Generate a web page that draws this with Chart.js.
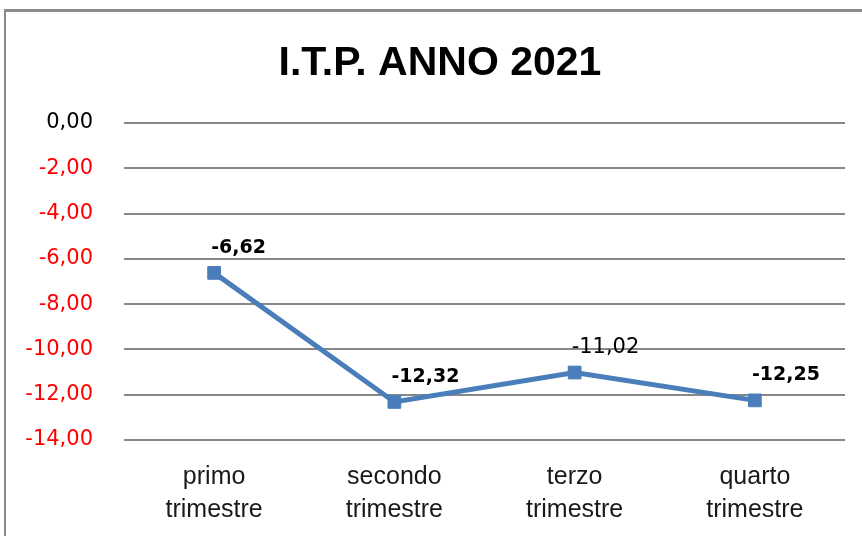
<!DOCTYPE html>
<html>
<head>
<meta charset="utf-8">
<script src="https://cdn.jsdelivr.net/npm/chart.js@4"></script>
<style>
    html, body { margin: 0; padding: 0; background: #fff; overflow: hidden; }
    .frame {
        position: absolute; left: 4px; top: 9px; width: 900px; height: 600px;
        border-top: 3px solid #8a8a8a; border-left: 2px solid #8a8a8a;
    }
    #itp-chart { position: absolute; left: 0; top: 0; }
</style>
</head>
<body>
<div class="frame"></div>
<canvas id="itp-chart" width="862" height="536"></canvas>
<script>
// I.T.P. anno 2021 - valori trimestrali
const chartTitle = 'I.T.P. ANNO 2021';
const quarters = [['primo', 'trimestre'], ['secondo', 'trimestre'], ['terzo', 'trimestre'], ['quarto', 'trimestre']];
const itpValues = [-6.62, -12.32, -11.02, -12.25];
const yTicks = [0, -2, -4, -6, -8, -10, -12, -14];

const LINE_BLUE = '#4a7ebb';
const GRID_GREY = '#878787';

function fmt(v) {
    return v.toFixed(2).replace('.', ',');
}

// draws the value labels above each point
const valueLabels = {
    id: 'valueLabels',
    afterDatasetsDraw(chart) {
        const ctx = chart.ctx;
        const meta = chart.getDatasetMeta(0);
        ctx.save();
        ctx.fillStyle = '#000';
        ctx.textAlign = 'left';
        ctx.textBaseline = 'middle';
        meta.data.forEach((pt, i) => {
            // the third label is not bold in the original
            ctx.font = i === 2 ? '21px "DejaVu Sans"' : 'bold 19px "DejaVu Sans"';
            ctx.fillText(fmt(itpValues[i]), pt.x - 3, pt.y - 25);
        });
        ctx.restore();
    }
};

new Chart(document.getElementById('itp-chart'), {
    type: 'line',
    data: {
        labels: quarters,
        datasets: [{
            data: itpValues,
            borderColor: LINE_BLUE,
            backgroundColor: LINE_BLUE,
            borderWidth: 5,
            pointStyle: 'rect',
            pointRadius: 9,
            pointBorderWidth: 1,
            tension: 0
        }]
    },
    options: {
        responsive: false,
        animation: false,
        layout: { padding: { left: 20, right: 2, top: 10, bottom: 0 } },
        plugins: {
            legend: { display: false },
            tooltip: { enabled: false },
            title: {
                display: true,
                text: chartTitle,
                color: '#000',
                font: { family: '"Liberation Sans", sans-serif', size: 41, weight: 'bold', lineHeight: 1.2 },
                padding: { top: 29.4, bottom: 34.4 }
            }
        },
        scales: {
            x: {
                offset: true,
                grid: { display: false },
                border: { display: false },
                ticks: {
                    color: '#1a1a1a',
                    padding: 13,
                    maxRotation: 0,
                    autoSkip: false,
                    font: { family: '"Liberation Sans", sans-serif', size: 25, lineHeight: 1.3 }
                },
                afterFit(scale) { scale.height = 96; }
            },
            y: {
                min: -14,
                max: 0,
                afterBuildTicks(scale) {
                    scale.ticks = yTicks.map(v => ({ value: v }));
                },
                afterFit(scale) { scale.width = 104; },
                grid: { color: GRID_GREY, lineWidth: 2, drawTicks: false },
                border: { display: false },
                ticks: {
                    padding: 31,
                    color: ctx => ctx.tick.value < 0 ? '#ff0000' : '#000',
                    font: { family: '"DejaVu Sans", sans-serif', size: 21 },
                    callback: v => fmt(v)
                }
            },
            // empty right axis, only keeps the plot edge at the reference spot
            yRight: {
                position: 'right',
                min: -14,
                max: 0,
                grid: { display: false },
                border: { display: false },
                ticks: { display: false },
                afterFit(scale) { scale.width = 15; }
            }
        }
    },
    plugins: [valueLabels]
});
</script>
</body>
</html>
